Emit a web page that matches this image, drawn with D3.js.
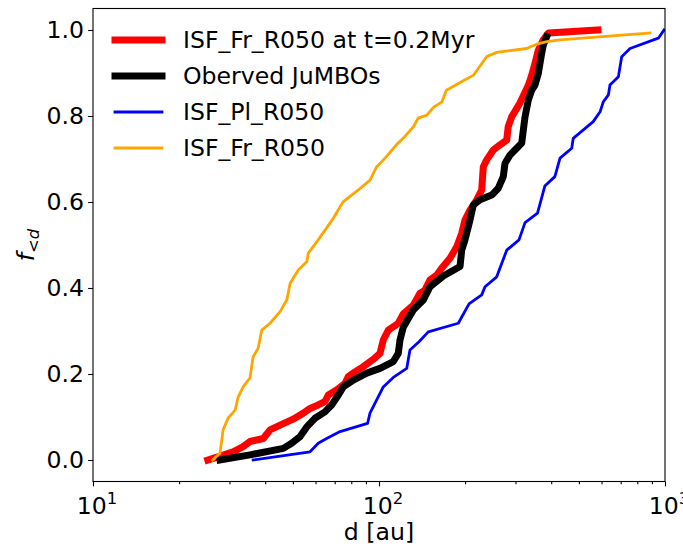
<!DOCTYPE html>
<html>
<head>
<meta charset="utf-8">
<script src="https://cdn.jsdelivr.net/npm/d3@7"></script>
<style>
  html, body { margin: 0; padding: 0; background: #fff; }
  svg text { font-family: "DejaVu Sans", sans-serif; fill: #000; }
</style>
</head>
<body>
<svg id="chart" width="683" height="547"></svg>
<script>
// ---- data (d in au, f = cumulative fraction) ----
const redD   = [25.2,27.8,30.9,33.5,35.4,39.4,41.6,45.1,50.1,54.4,57.4,61.3,64.7,66.5,71.1,76.0,78.1,82.4,88.1,95.5,100.8,103.5,107.8,116.8,121.6,131.8,139.1,144.8,150.8,159.2,165.6,177.1,187,194.6,199.8,208,219.6,228.6,231.6,238,251,265,279.6,283,291,311,333,342,351,360.6,375.4,391,583];
const redF   = [0,0.009,0.019,0.031,0.043,0.050,0.070,0.081,0.095,0.109,0.120,0.128,0.136,0.151,0.163,0.178,0.194,0.205,0.217,0.234,0.248,0.279,0.302,0.318,0.340,0.360,0.388,0.395,0.419,0.430,0.446,0.469,0.496,0.527,0.558,0.581,0.605,0.628,0.682,0.698,0.721,0.733,0.744,0.775,0.798,0.830,0.872,0.895,0.922,0.953,0.977,0.993,1.0];

const blackD = [27.8,35.4,46.3,49.5,52.9,55.9,59.7,64.7,68.3,72.1,75.0,81.3,90.6,100.8,112.2,116.8,118.4,121.6,131.8,142.9,150.8,167.8,192,194.6,199.8,208,213.7,225.5,247.8,261.3,272,275.8,287,303,315.5,319.6,324,332.7,342,351,360.6,365.6,370.6,375.4,385.6];
const blackF = [0,0.012,0.027,0.039,0.054,0.077,0.097,0.112,0.128,0.151,0.170,0.186,0.202,0.213,0.229,0.248,0.279,0.309,0.349,0.372,0.403,0.428,0.450,0.488,0.512,0.558,0.593,0.605,0.616,0.632,0.659,0.690,0.709,0.725,0.737,0.767,0.798,0.837,0.860,0.872,0.899,0.923,0.946,0.965,0.984];

const blueD  = [36.3,57.4,61.3,65.6,73.1,91.2,93.0,103.5,112.2,125,128.3,138,148.7,189.4,206.4,228.6,234.8,258,279.6,308.7,324,358.3,380,412,429.5,472,477.6,561,593,608.5,634,642,687,705.6,754.6,948,992];
const blueF  = [0,0.019,0.039,0.050,0.066,0.085,0.109,0.170,0.192,0.213,0.256,0.275,0.298,0.318,0.363,0.384,0.403,0.426,0.488,0.512,0.552,0.574,0.637,0.659,0.702,0.725,0.748,0.787,0.810,0.833,0.849,0.872,0.891,0.938,0.957,0.981,1.0];

const orangeD = [26.2,27.8,28.5,29.7,31.4,32.2,33.5,35.4,36.3,37.8,38.9,41.6,45.1,47.6,48.9,52.2,55.9,56.6,61.3,69.2,75.0,84.7,93.0,98.2,105,115,123,132,137,147,155,166,172,195,214,225,238,258,328,356,386,429,886];
const orangeF = [0,0.016,0.070,0.098,0.116,0.147,0.170,0.191,0.240,0.260,0.302,0.318,0.345,0.372,0.411,0.442,0.461,0.481,0.512,0.562,0.601,0.628,0.651,0.682,0.702,0.733,0.752,0.775,0.795,0.802,0.820,0.833,0.860,0.880,0.895,0.915,0.938,0.948,0.957,0.967,0.973,0.977,0.993];

const seriesNames  = ["ISF_Fr_R050 at t=0.2Myr", "Oberved JuMBOs", "ISF_Pl_R050", "ISF_Fr_R050"];
const seriesColors = ["#ff0000", "#000000", "#0000ff", "#ffa500"];
const seriesWidths = [7, 7, 2.8, 2.8];
const yTicks = [0, 0.2, 0.4, 0.6, 0.8, 1.0];
const xMajor = [10, 100, 1000];
const xExp   = ["1", "2", "3"];

// ---- layout ----
const FS = 23.6, FSS = 16.5;
const L = 93, R = 665, T = 8.5, B = 481.5;
const svg = d3.select("#chart");
const x = d3.scaleLog().domain([10, 1000]).range([L, R]);
const y = d3.scaleLinear().domain([-0.05, 1.05]).range([B, T]);

const series = [
  redD.map((d, i) => [d, redF[i]]),
  blackD.map((d, i) => [d, blackF[i]]),
  blueD.map((d, i) => [d, blueF[i]]),
  orangeD.map((d, i) => [d, orangeF[i]])
];

const clipId = "plotclip";
svg.append("clipPath").attr("id", clipId).append("rect")
  .attr("x", L).attr("y", T).attr("width", R - L).attr("height", B - T);

const line = d3.line().x(p => x(p[0])).y(p => y(p[1]));
const g = svg.append("g").attr("clip-path", `url(#${clipId})`);
series.forEach((s, i) => {
  g.append("path").datum(s).attr("d", line)
    .attr("fill", "none").attr("stroke", seriesColors[i])
    .attr("stroke-width", seriesWidths[i])
    .attr("stroke-linejoin", "round").attr("stroke-linecap", "square");
});

// ---- axes ----
const xAxis = d3.axisBottom(x).tickValues(xMajor).tickSize(4.9).tickFormat("");
const gx = svg.append("g").attr("transform", `translate(0,${B})`).call(xAxis);
const minor = [];
[10, 100].forEach(base => { for (let k = 2; k <= 9; k++) minor.push(base * k); });
svg.append("g").attr("transform", `translate(0,${B})`)
  .call(d3.axisBottom(x).tickValues(minor).tickSize(2.8).tickFormat(""))
  .call(a => a.select(".domain").remove());

const yAxis = d3.axisLeft(y).tickValues(yTicks).tickSize(4.9).tickFormat(d3.format(".1f"));
const gy = svg.append("g").attr("transform", `translate(${L},0)`).call(yAxis);
gy.selectAll("text").attr("font-size", FS).attr("font-family", "DejaVu Sans").attr("x", -9);

[gx, gy].forEach(a => a.select(".domain").remove());
svg.selectAll(".tick line").attr("stroke", "#000").attr("stroke-width", 1.1);

// x tick labels 10^n
xMajor.forEach((v, i) => {
  const t = svg.append("text").attr("x", x(v) + 4).attr("y", B + 32)
    .attr("text-anchor", "middle").attr("font-size", FS);
  t.append("tspan").text("10");
  t.append("tspan").attr("font-size", FSS).attr("dy", -10).text(xExp[i]);
});

// frame
svg.append("rect").attr("x", L).attr("y", T).attr("width", R - L).attr("height", B - T)
  .attr("fill", "none").attr("stroke", "#000").attr("stroke-width", 1.1);

// axis labels
svg.append("text").attr("x", (L + R) / 2).attr("y", 540).attr("text-anchor", "middle")
  .attr("font-size", FS).text("d [au]");
const yl = svg.append("text").attr("transform", "translate(34,245) rotate(-90)")
  .attr("text-anchor", "middle").attr("font-size", FS);
yl.append("tspan").attr("font-style", "italic").text("f");
yl.append("tspan").attr("font-size", FSS).attr("dy", 5).attr("font-style", "italic").text("<d");

// legend
const legY = [40, 76, 112, 148];
seriesNames.forEach((name, i) => {
  svg.append("line").attr("x1", 115).attr("x2", 162).attr("y1", legY[i]).attr("y2", legY[i])
    .attr("stroke", seriesColors[i]).attr("stroke-width", seriesWidths[i])
    .attr("stroke-linecap", "square");
  svg.append("text").attr("x", 183).attr("y", legY[i]).attr("dy", "0.35em")
    .attr("font-size", FS).text(name);
});
</script>
</body>
</html>
